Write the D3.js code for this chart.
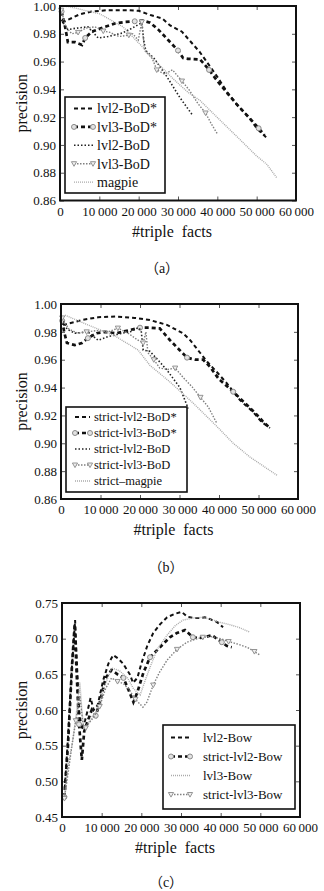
<!DOCTYPE html>
<html>
<head>
<meta charset="utf-8">
<script src="https://cdn.jsdelivr.net/npm/d3@7"></script>
<style>
  body { margin: 0; background: #fff; }
  text { font-family: "Liberation Serif", "DejaVu Serif", serif; fill: #111; }
</style>
</head>
<body>
<svg id="chart" width="324" height="891"></svg>
<script>
// ---- data ----
var xTicks = [0, 10000, 20000, 30000, 40000, 50000, 60000];
var yTicksAB = [0.86, 0.88, 0.90, 0.92, 0.94, 0.96, 0.98, 1.00];
var yTicksC = [0.45, 0.50, 0.55, 0.60, 0.65, 0.70, 0.75];

var namesA = ["lvl2-BoD*", "lvl3-BoD*", "lvl2-BoD", "lvl3-BoD", "magpie"];
var namesB = ["strict-lvl2-BoD*", "strict-lvl3-BoD*", "strict-lvl2-BoD", "strict-lvl3-BoD", "strict\u2013magpie"];
var namesC = ["lvl2-Bow", "strict-lvl2-Bow", "lvl3-Bow", "strict-lvl3-Bow"];

var aLvl2BodStar = [[500,0.988],[2000,0.99],[5000,0.994],[8000,0.996],[12000,0.997],[17000,0.997],[20000,0.9965],[23000,0.9935],[26000,0.991],[28000,0.986],[31000,0.9815],[33000,0.975],[35500,0.967],[37000,0.961],[40000,0.949],[42500,0.938],[45000,0.929],[48000,0.92],[50000,0.912],[52600,0.905]];
var aLvl3BodStar = [[400,0.996],[1300,0.985],[2000,0.974],[3800,0.974],[5600,0.972],[6400,0.977],[8100,0.9815],[11400,0.985],[14000,0.9875],[16500,0.9885],[19000,0.989],[21000,0.9895],[22900,0.988],[25000,0.983],[27500,0.9755],[30000,0.968],[31300,0.9625],[32500,0.962],[35600,0.9615],[36400,0.959],[37900,0.954],[40000,0.946],[43200,0.935],[45000,0.929],[48600,0.918],[50500,0.912],[52000,0.907]];
var aLvl2Bod = [[300,0.99],[2000,0.983],[4000,0.984],[7100,0.985],[9700,0.977],[12200,0.978],[15800,0.9805],[18300,0.984],[20800,0.988],[21300,0.975],[21800,0.968],[24000,0.962],[27200,0.949],[30500,0.934],[33800,0.921]];
var aLvl3Bod = [[300,0.997],[1500,0.985],[3000,0.98],[4600,0.981],[6500,0.984],[8900,0.985],[11000,0.982],[12700,0.981],[15000,0.978],[17500,0.979],[18500,0.98],[19900,0.9755],[20800,0.9885],[21500,0.968],[23500,0.962],[24600,0.954],[26500,0.951],[28600,0.954],[31000,0.946],[33000,0.939],[35000,0.93],[37000,0.923],[38500,0.915],[40000,0.908]];
var aMagpie = [[500,1.0],[2500,0.9995],[6000,0.997],[10000,0.9945],[16000,0.985],[21000,0.9705],[24000,0.961],[29000,0.947],[32500,0.938],[35600,0.932],[39900,0.92],[45700,0.904],[50000,0.892],[52600,0.886],[55200,0.876]];

var bLvl2BodStar = [[500,0.985],[2000,0.986],[5300,0.9885],[9400,0.9905],[13700,0.991],[18700,0.99],[22500,0.9885],[26800,0.985],[30900,0.979],[32700,0.974],[35200,0.965],[37000,0.9585],[39500,0.951],[42000,0.943],[45300,0.931],[48600,0.9225],[50900,0.915],[52900,0.911]];
var bLvl3BodStar = [[300,0.988],[800,0.98],[1500,0.972],[3500,0.9705],[5300,0.972],[6800,0.9755],[9000,0.979],[11100,0.98],[14000,0.979],[17000,0.981],[20000,0.983],[22500,0.983],[25000,0.9825],[27600,0.974],[30000,0.967],[31900,0.9615],[34000,0.96],[36000,0.96],[37700,0.955],[40000,0.946],[43600,0.937],[46500,0.929],[49100,0.922],[51000,0.916],[52500,0.912]];
var bLvl2Bod = [[300,0.99],[1500,0.982],[3500,0.979],[6800,0.98],[9400,0.974],[11900,0.9765],[15400,0.979],[17500,0.98],[19500,0.983],[20300,0.981],[20800,0.967],[22500,0.966],[24500,0.96],[26800,0.9526],[30100,0.94],[32200,0.925]];
var bLvl3Bod = [[300,0.99],[2000,0.982],[4300,0.979],[6500,0.98],[9400,0.981],[12000,0.98],[14400,0.9827],[17000,0.979],[19500,0.974],[20800,0.972],[21500,0.98],[22000,0.965],[23500,0.96],[25000,0.954],[27000,0.953],[28900,0.954],[31000,0.947],[33200,0.9405],[35300,0.933],[37300,0.926],[39400,0.9146]];
var bMagpie = [[1000,0.992],[6800,0.985],[13700,0.977],[19500,0.967],[22500,0.956],[27600,0.944],[33400,0.929],[39500,0.912],[43600,0.9],[47900,0.89],[54700,0.877]];

var cLvl2Bow = [[700,0.49],[1500,0.56],[2500,0.66],[3300,0.726],[3800,0.66],[4300,0.6],[5000,0.572],[5800,0.585],[6500,0.6],[7200,0.617],[8000,0.6],[9000,0.607],[10400,0.642],[11700,0.665],[12900,0.677],[14200,0.672],[15400,0.665],[17100,0.65],[17900,0.638],[19000,0.645],[20000,0.665],[21500,0.69],[23000,0.708],[24700,0.72],[26500,0.73],[28500,0.735],[30200,0.7375],[31500,0.731],[33000,0.729],[34800,0.729],[36000,0.73],[37500,0.727],[39000,0.7235],[40600,0.716]];
var cStrictLvl2Bow = [[600,0.478],[1500,0.55],[2500,0.66],[3200,0.72],[3700,0.65],[4300,0.58],[5000,0.53],[5600,0.57],[6500,0.585],[7500,0.6],[8500,0.592],[9500,0.61],[11000,0.645],[12500,0.656],[14000,0.65],[15500,0.645],[17000,0.625],[18000,0.611],[19000,0.625],[20500,0.652],[22200,0.674],[24700,0.688],[27200,0.702],[29000,0.708],[31000,0.712],[33000,0.702],[34500,0.701],[36000,0.702],[37800,0.705],[39000,0.7],[40300,0.695],[41500,0.69],[42800,0.688]];
var cLvl3Bow = [[600,0.48],[1500,0.52],[2500,0.55],[3500,0.59],[4500,0.639],[5000,0.6],[5500,0.575],[6500,0.58],[7500,0.59],[9000,0.6],[10500,0.63],[12500,0.659],[14500,0.655],[16500,0.645],[18000,0.63],[19700,0.621],[21000,0.642],[22200,0.66],[24000,0.685],[26500,0.705],[28500,0.718],[30500,0.726],[33000,0.729],[35500,0.73],[37500,0.727],[39800,0.723],[42000,0.72],[44500,0.716],[47400,0.709]];
var cStrictLvl3Bow = [[600,0.476],[1500,0.51],[2500,0.55],[3500,0.585],[4500,0.62],[5300,0.58],[6000,0.575],[7000,0.583],[8000,0.59],[9500,0.605],[11000,0.63],[12500,0.645],[14000,0.64],[15500,0.637],[17000,0.628],[18500,0.615],[20400,0.604],[21400,0.611],[23000,0.635],[24500,0.652],[26500,0.67],[29000,0.685],[31500,0.695],[33500,0.699],[35500,0.702],[37500,0.703],[40000,0.7],[42000,0.696],[44500,0.692],[46600,0.688],[48500,0.682],[49900,0.677]];

// ---- line styles ----
var dashThin = { stroke: "#111", width: 2, dash: "4,3" };
var dashThick = { stroke: "#111", width: 2.7, dash: "4,3", marker: "circle", every: 5 };
var dotBlack = { stroke: "#222", width: 1.6, dash: "1.5,2" };
var dotTri = { stroke: "#808080", width: 1.4, dash: "1.5,1.5", marker: "tri", every: 3 };
var dotGray = { stroke: "#aaa", width: 1.4, dash: "1,1" };

var svg = d3.select("#chart");
var fmtX = d3.formatLocale({ decimal: ".", thousands: "\u2009", grouping: [3], currency: ["", ""] }).format(",d");
var fmtY = d3.format(".2f");

function drawMarker(g, kind, cx, cy) {
  if (kind === "circle") {
    g.append("circle").attr("cx", cx).attr("cy", cy).attr("r", 2.5)
      .attr("fill", "#e2e2e2").attr("stroke", "#8a8a8a").attr("stroke-width", 1);
  } else if (kind === "tri") {
    g.append("path")
      .attr("d", "M" + (cx - 2.6) + "," + (cy - 2) + "L" + (cx + 2.6) + "," + (cy - 2) + "L" + cx + "," + (cy + 2.6) + "Z")
      .attr("fill", "#eee").attr("stroke", "#8a8a8a").attr("stroke-width", 0.9);
  }
}

function panel(o) {
  var x = d3.scaleLinear().domain([0, 60000]).range([o.left, o.right]);
  var y = d3.scaleLinear().domain(o.yDomain).range([o.bottom, o.top]);
  var g = svg.append("g");

  var bottom = g.append("g").attr("transform", "translate(0," + o.bottom + ")")
    .call(d3.axisBottom(x).tickValues(xTicks).tickSizeInner(-4).tickSizeOuter(0).tickPadding(6).tickFormat(fmtX));
  var left = g.append("g").attr("transform", "translate(" + o.left + ",0)")
    .call(d3.axisLeft(y).tickValues(o.yTicks).tickSizeInner(-4).tickSizeOuter(0).tickPadding(4).tickFormat(fmtY));
  g.append("g").attr("transform", "translate(0," + o.top + ")")
    .call(d3.axisTop(x).tickValues(xTicks).tickSizeInner(-4).tickSizeOuter(0).tickFormat(""));
  g.append("g").attr("transform", "translate(" + o.right + ",0)")
    .call(d3.axisRight(y).tickValues(o.yTicks).tickSizeInner(-4).tickSizeOuter(0).tickFormat(""));
  g.selectAll(".domain").remove();
  g.selectAll(".tick line").attr("stroke", "#555");
  bottom.selectAll("text").attr("font-size", 13).attr("font-family", "Liberation Serif");
  left.selectAll("text").attr("font-size", 13).attr("font-family", "Liberation Serif");

  var line = d3.line().x(function (d) { return x(d[0]); }).y(function (d) { return y(d[1]); });

  o.series.forEach(function (s) {
    g.append("path").datum(s.data)
      .attr("d", line)
      .attr("fill", "none")
      .attr("stroke", s.style.stroke)
      .attr("stroke-width", s.style.width)
      .attr("stroke-dasharray", s.style.dash);
    if (s.style.marker) {
      s.data.forEach(function (d, i) {
        if (i % s.style.every === 0) drawMarker(g, s.style.marker, x(d[0]), y(d[1]));
      });
    }
  });

  // legend
  var L = o.legend;
  g.append("rect").attr("x", L.x).attr("y", L.y).attr("width", L.w).attr("height", L.h)
    .attr("fill", "#fff").attr("stroke", "#111").attr("stroke-width", 1.6);
  o.series.forEach(function (s, i) {
    var cy = L.row0 + i * L.gap;
    g.append("line").attr("x1", L.sx1).attr("x2", L.sx2).attr("y1", cy).attr("y2", cy)
      .attr("stroke", s.style.stroke).attr("stroke-width", s.style.width)
      .attr("stroke-dasharray", s.style.dash);
    if (s.style.marker) {
      drawMarker(g, s.style.marker, L.sx1, cy);
      drawMarker(g, s.style.marker, L.sx2, cy);
    }
    g.append("text").attr("x", L.tx).attr("y", cy).attr("dy", "0.35em")
      .attr("font-size", L.fs).text(s.name);
  });

  // frame
  g.append("rect").attr("x", o.left).attr("y", o.top)
    .attr("width", o.right - o.left).attr("height", o.bottom - o.top)
    .attr("fill", "none").attr("stroke", "#111").attr("stroke-width", 2);

  // labels
  g.append("text").attr("transform", "translate(" + 27 + "," + ((o.top + o.bottom) / 2) + ") rotate(-90)")
    .attr("text-anchor", "middle").attr("font-size", 16).text("precision");
  g.append("text").attr("x", (o.left + o.right) / 2 - 6).attr("y", o.bottom + 36)
    .attr("text-anchor", "middle").attr("font-size", 16).attr("word-spacing", 4).text("#triple facts");
  g.append("text").attr("x", o.capX).attr("y", o.capY)
    .attr("text-anchor", "middle").attr("font-size", 14)
    .style("font-family", "'Liberation Serif', 'Noto Sans CJK SC', serif")
    .text("\uff08" + o.caption + "\uff09");
}

panel({
  left: 60, right: 296, top: 6, bottom: 200.5,
  yDomain: [0.86, 1.0], yTicks: yTicksAB,
  caption: "a", capX: 162, capY: 273,
  legend: { x: 65, y: 97, w: 100, h: 96, row0: 108.5, gap: 18.4, sx1: 74, sx2: 93, tx: 97, fs: 14 },
  series: [
    { name: namesA[0], data: aLvl2BodStar, style: dashThin },
    { name: namesA[1], data: aLvl3BodStar, style: dashThick },
    { name: namesA[2], data: aLvl2Bod, style: dotBlack },
    { name: namesA[3], data: aLvl3Bod, style: dotTri },
    { name: namesA[4], data: aMagpie, style: dotGray }
  ]
});

panel({
  left: 61, right: 298, top: 304, bottom: 499,
  yDomain: [0.86, 1.0], yTicks: yTicksAB,
  caption: "b", capX: 166, capY: 572,
  legend: { x: 66, y: 407, w: 121, h: 85, row0: 417, gap: 16, sx1: 75, sx2: 90, tx: 94, fs: 12.5 },
  series: [
    { name: namesB[0], data: bLvl2BodStar, style: dashThin },
    { name: namesB[1], data: bLvl3BodStar, style: dashThick },
    { name: namesB[2], data: bLvl2Bod, style: dotBlack },
    { name: namesB[3], data: bLvl3Bod, style: dotTri },
    { name: namesB[4], data: bMagpie, style: dotGray }
  ]
});

panel({
  left: 62, right: 300, top: 603, bottom: 817,
  yDomain: [0.45, 0.75], yTicks: yTicksC,
  caption: "c", capX: 166, capY: 887,
  legend: { x: 163, y: 725, w: 132, h: 84, row0: 737.5, gap: 19, sx1: 171, sx2: 190, tx: 203, fs: 13 },
  series: [
    { name: namesC[0], data: cLvl2Bow, style: dashThin },
    { name: namesC[1], data: cStrictLvl2Bow, style: dashThick },
    { name: namesC[2], data: cLvl3Bow, style: dotGray },
    { name: namesC[3], data: cStrictLvl3Bow, style: dotTri }
  ]
});
</script>
</body>
</html>
